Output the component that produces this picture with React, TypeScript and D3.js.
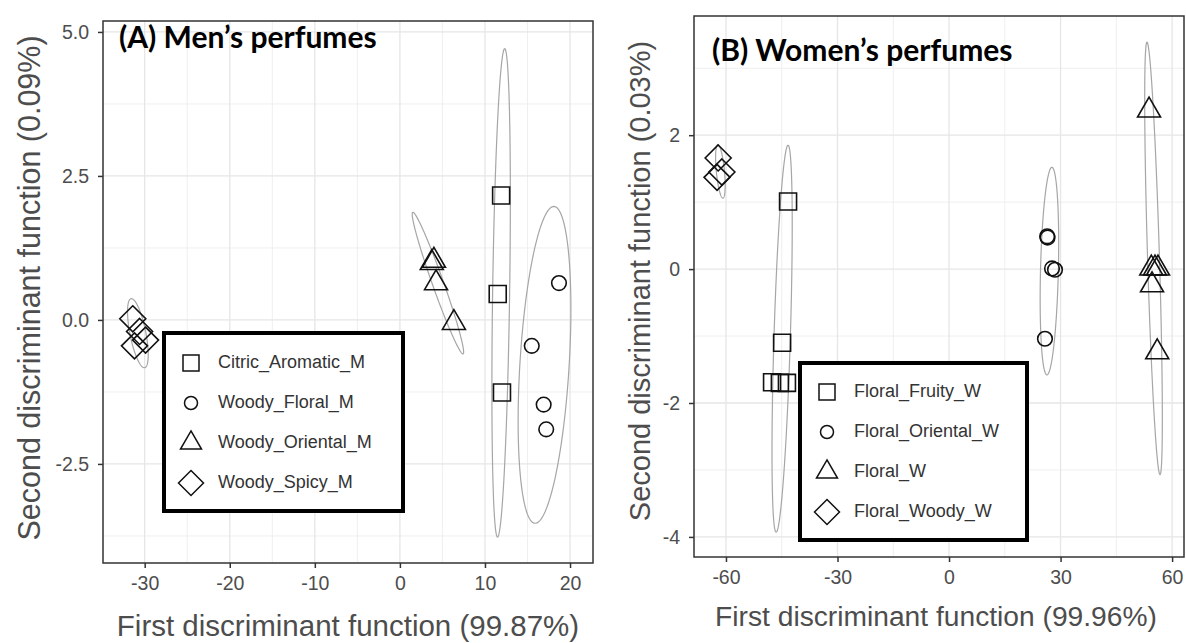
import React, { useEffect, useRef } from 'react';
import * as d3 from 'd3';

// (A) men's perfumes
const menGroups = ['Citric_Aromatic_M', 'Woody_Floral_M', 'Woody_Oriental_M', 'Woody_Spicy_M'];
const menX = [
  [11.9, 11.5, 12.0],
  [18.7, 15.5, 16.9, 17.2],
  [3.75, 4.0, 4.25, 6.35],
  [-31.4, -30.6, -31.2, -29.9],
];
const menY = [
  [2.16, 0.45, -1.26],
  [0.64, -0.45, -1.47, -1.9],
  [0.99, 1.03, 0.64, -0.05],
  [0.02, -0.2, -0.45, -0.35],
];
// ellipse: centre x, centre y, half-axis a (x, y), half-axis b (x, y)
const menEllipses = [
  [11.9, 0.47, 0.42, 4.24, 1.0, 0],
  [17.0, -0.78, 1.1, 2.75, 2.9, 0],
  [4.47, 0.64, -2.94, 1.23, 0.7, 0],
  [-30.8, -0.23, -0.76, 0.6, 0.95, 0],
];
const menXTicks = [-30, -20, -10, 0, 10, 20];
const menXMinor = [-25, -15, -5, 5, 15];
const menYTicks = [5.0, 2.5, 0, -2.5];
const menYMinor = [3.75, 1.25, -1.25, -3.75];

// (B) women's perfumes
const womenGroups = ['Floral_Fruity_W', 'Floral_Oriental_W', 'Floral_W', 'Floral_Woody_W'];
const womenX = [
  [-43.3, -44.9, -47.6, -45.5, -43.6],
  [26.4, 26.5, 27.7, 28.5, 25.8],
  [53.8, 54.4, 55.4, 56.2, 54.6, 56.0],
  [-62.1, -61.1, -62.4],
];
const womenY = [
  [1.01, -1.1, -1.69, -1.7, -1.7],
  [0.49, 0.47, 0.01, -0.01, -1.04],
  [2.37, 0.01, 0.01, 0.01, -0.24, -1.24],
  [1.66, 1.45, 1.37],
];
const womenEllipses = [
  [-44.9, -1.04, 1.6, 2.89, 2.2, 0],
  [27.0, -0.03, 0.67, 1.55, 2.4, 0],
  [55.0, 0.16, -1.75, 3.23, 1.6, 0],
  [-61.5, 1.46, -0.67, 0.4, 1.1, 0],
];
const womenXTicks = [-60, -30, 0, 30, 60];
const womenXMinor = [-45, -15, 15, 45];
const womenYTicks = [2, 0, -2, -4];
const womenYMinor = [3, 1, -1, -3];

const shapes = ['square', 'circle', 'triangle', 'diamond'];

function shapePath(shape, s) {
  if (shape === 'square') return `M${-s.sq},${-s.sq}h${2 * s.sq}v${2 * s.sq}h${-2 * s.sq}Z`;
  if (shape === 'circle') return d3.arc()({ innerRadius: 0, outerRadius: s.r, startAngle: 0, endAngle: 2 * Math.PI });
  if (shape === 'triangle') {
    const h = s.tw * Math.sqrt(3) / 2;
    return `M0,${-2 * h / 3}L${s.tw / 2},${h / 3}L${-s.tw / 2},${h / 3}Z`;
  }
  return `M0,${-s.dm}L${s.dm},0L0,${s.dm}L${-s.dm},0Z`;
}

const plotSize = { sq: 8.5, r: 7.3, tw: 23, dm: 13 };
const legendSize = { sq: 8, r: 6.5, tw: 21, dm: 12.5 };
const sans = '"Liberation Sans", Arial, sans-serif';

function drawPanel(svg, cfg) {
  const g = svg.append('g');
  const x = d3.scaleLinear().domain(cfg.xDomain).range([cfg.left, cfg.right]);
  const y = d3.scaleLinear().domain(cfg.yDomain).range([cfg.bottom, cfg.top]);

  // grid
  const grid = g.append('g');
  grid.selectAll('.vmin').data(cfg.xMinor).enter().append('line')
    .attr('x1', d => x(d)).attr('x2', d => x(d)).attr('y1', cfg.top).attr('y2', cfg.bottom)
    .attr('stroke', '#efefef').attr('stroke-width', 1);
  grid.selectAll('.hmin').data(cfg.yMinor).enter().append('line')
    .attr('y1', d => y(d)).attr('y2', d => y(d)).attr('x1', cfg.left).attr('x2', cfg.right)
    .attr('stroke', '#efefef').attr('stroke-width', 1);
  grid.selectAll('.vmaj').data(cfg.xTicks).enter().append('line')
    .attr('x1', d => x(d)).attr('x2', d => x(d)).attr('y1', cfg.top).attr('y2', cfg.bottom)
    .attr('stroke', '#e6e6e6').attr('stroke-width', 1.3);
  grid.selectAll('.hmaj').data(cfg.yTicks).enter().append('line')
    .attr('y1', d => y(d)).attr('y2', d => y(d)).attr('x1', cfg.left).attr('x2', cfg.right)
    .attr('stroke', '#e6e6e6').attr('stroke-width', 1.3);

  // ellipses
  const angles = d3.range(0, 2 * Math.PI + 0.001, Math.PI / 90);
  const line = d3.line().x(p => x(p[0])).y(p => y(p[1]));
  cfg.ellipses.forEach(e => {
    const pts = angles.map(t => [
      e[0] + e[2] * Math.cos(t) + e[4] * Math.sin(t),
      e[1] + e[3] * Math.cos(t) + e[5] * Math.sin(t),
    ]);
    g.append('path').attr('d', line(pts)).attr('fill', 'none')
      .attr('stroke', '#a6a6a6').attr('stroke-width', 1.2);
  });

  // points
  cfg.xs.forEach((xs, gi) => {
    xs.forEach((xv, i) => {
      g.append('path')
        .attr('d', shapePath(shapes[gi], plotSize))
        .attr('transform', `translate(${x(xv)},${y(cfg.ys[gi][i])})`)
        .attr('fill', 'none').attr('stroke', '#111').attr('stroke-width', 1.6);
    });
  });

  // border
  g.append('rect').attr('x', cfg.left).attr('y', cfg.top)
    .attr('width', cfg.right - cfg.left).attr('height', cfg.bottom - cfg.top)
    .attr('fill', 'none').attr('stroke', '#333').attr('stroke-width', 1.5);

  // axes
  const xa = g.append('g').attr('transform', `translate(0,${cfg.bottom})`)
    .call(d3.axisBottom(x).tickValues(cfg.xTicks).tickFormat(d => String(d)).tickSize(5).tickPadding(8));
  const ya = g.append('g').attr('transform', `translate(${cfg.left},0)`)
    .call(d3.axisLeft(y).tickValues(cfg.yTicks).tickFormat(cfg.yFormat).tickSize(5).tickPadding(9));
  [xa, ya].forEach(a => {
    a.select('.domain').remove();
    a.selectAll('line').attr('stroke', '#333').attr('stroke-width', 1.5);
    a.selectAll('text').attr('fill', '#4d4d4d').attr('font-size', 19.5).attr('font-family', sans);
  });

  // axis titles
  g.append('text').attr('x', cfg.xTitleX).attr('y', cfg.xTitleY)
    .attr('text-anchor', 'middle').attr('fill', '#4d4d4d').attr('font-size', cfg.xTitleSize)
    .attr('font-family', sans)
    .text(cfg.xTitle);
  g.append('text')
    .attr('transform', `translate(${cfg.yTitleX},${cfg.yTitleY}) rotate(-90)`)
    .attr('text-anchor', 'middle').attr('fill', '#4d4d4d').attr('font-size', cfg.yTitleSize)
    .attr('font-family', sans)
    .text(cfg.yTitle);

  // panel title
  g.append('text').attr('x', cfg.titleX).attr('y', cfg.titleY)
    .attr('font-family', 'Lato, "Open Sans", sans-serif').attr('font-weight', 'bold')
    .attr('font-size', 30).attr('fill', '#000').text(cfg.title);

  // legend
  const lg = g.append('g');
  lg.append('rect').attr('x', cfg.legend[0]).attr('y', cfg.legend[1])
    .attr('width', cfg.legend[2]).attr('height', cfg.legend[3])
    .attr('fill', '#fff').attr('stroke', '#000').attr('stroke-width', 4);
  cfg.groups.forEach((name, i) => {
    const cy = cfg.legend[1] + cfg.legendRow0 + i * 40;
    lg.append('path').attr('d', shapePath(shapes[i], legendSize))
      .attr('transform', `translate(${cfg.legend[0] + 27},${cy})`)
      .attr('fill', 'none').attr('stroke', '#111').attr('stroke-width', 1.5);
    lg.append('text').attr('x', cfg.legend[0] + 54).attr('y', cy)
      .attr('dominant-baseline', 'middle').attr('fill', '#333').attr('font-size', 18)
      .attr('font-family', sans).text(name);
  });
}

export default function App() {
  const ref = useRef(null);

  useEffect(() => {
    const svg = d3.select(ref.current);
    svg.selectAll('*').remove();
    svg.append('rect').attr('width', 1186).attr('height', 643).attr('fill', '#fff');

    drawPanel(svg, {
      left: 103, right: 593, top: 21, bottom: 563,
      xDomain: [-34.9, 22.7], yDomain: [-4.22, 5.19],
      xTicks: menXTicks, xMinor: menXMinor, yTicks: menYTicks, yMinor: menYMinor,
      yFormat: d => d.toFixed(1),
      ellipses: menEllipses, xs: menX, ys: menY, groups: menGroups,
      xTitle: 'First discriminant function (99.87%)', xTitleX: 348, xTitleY: 636, xTitleSize: 29.5,
      yTitle: 'Second discriminant function (0.09%)', yTitleX: 40, yTitleY: 288, yTitleSize: 30.5,
      title: '(A) Men\u2019s perfumes', titleX: 119, titleY: 48,
      legend: [164, 333, 239, 178], legendRow0: 30,
    });

    drawPanel(svg, {
      left: 694, right: 1184, top: 16, bottom: 557,
      xDomain: [-68.6, 63.2], yDomain: [-4.3, 3.78],
      xTicks: womenXTicks, xMinor: womenXMinor, yTicks: womenYTicks, yMinor: womenYMinor,
      yFormat: d => String(d),
      ellipses: womenEllipses, xs: womenX, ys: womenY, groups: womenGroups,
      xTitle: 'First discriminant function (99.96%)', xTitleX: 936, xTitleY: 626, xTitleSize: 28.2,
      yTitle: 'Second discriminant function (0.03%)', yTitleX: 650, yTitleY: 281, yTitleSize: 29,
      title: '(B) Women\u2019s perfumes', titleX: 712, titleY: 61,
      legend: [800, 363, 227, 177], legendRow0: 29,
    });
  }, []);

  return (
    <svg ref={ref} width={1186} height={643}
      style={{ position: 'absolute', left: 0, top: 0, display: 'block' }} />
  );
}
